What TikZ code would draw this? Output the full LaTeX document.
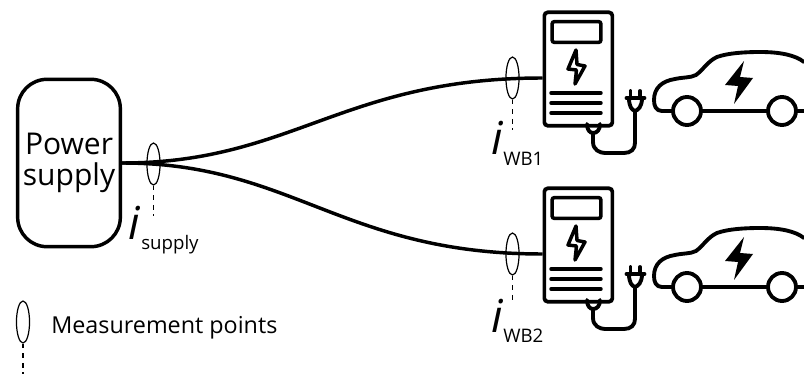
\documentclass[tikz,border=0pt]{standalone}
\usepackage{fontspec}
\usetikzlibrary{shapes.geometric}
\setmainfont{Open Sans}
\newcommand{\pxfont}[1]{\fontsize{#1}{#1}\selectfont}
\tikzset{
  x=0.75pt,y=-0.75pt,
  thick line/.style={line width=2.9pt,line join=round,line cap=round},
  mid line/.style={line width=2.6pt,line join=round,line cap=round},
  probe/.style={ellipse,draw,line width=0.9pt,minimum width=9.8pt,minimum height=31.5pt,inner sep=0pt},
  probe tail/.style={line width=0.9pt,dash pattern=on 3.6pt off 3.6pt},
  wire/.style={line width=2.6pt},
  cur/.style={anchor=base west,inner sep=0pt,font=\pxfont{34}\itshape},
  curs/.style={anchor=base west,inner sep=0pt,font=\pxfont{14}},
  station/.pic={
    \node[draw,line width=2.8pt,rounded corners=2.5pt,minimum width=51pt,minimum height=85pt,inner sep=0pt,anchor=north west] (-body) at (542.5,10.5) {};
    \node[draw,line width=2.6pt,rounded corners=1.5pt,minimum width=36.5pt,minimum height=15.5pt,inner sep=0pt] (-screen) at (576.5,32) {};
    \coordinate (-in) at (542.5,78);
    \draw[mid line] (576,50) -- (568,69) -- (576.5,70) -- (575,84) -- (585,66) -- (577,64.5) -- cycle;
    \draw[mid line] (551,93) -- (601,93) (551,103) -- (601,103) (551,113) -- (601,113);
    \draw[thick line] (587,124) .. controls (587,130) and (590,133) .. (593,133) .. controls (597,133) and (600,130) .. (600,124);
    \draw[thick line] (593,133) -- (593,142) .. controls (593,150) and (600,153) .. (605,153) -- (624,153) .. controls (631,153) and (635,149) .. (635,143) -- (635,112);
    \draw[thick line] (626.5,98) -- (644.5,98) (630.5,91) -- (630.5,98) (640,91) -- (640,98);
    \draw[thick line] (629,98) .. controls (629,107) and (632,110) .. (635,111) .. controls (638,110) and (642,107) .. (642,98);
    \draw[thick line] (672,111) -- (662,111) .. controls (656,111) and (654,106) .. (654,100) .. controls (654,88) and (662,81) .. (675,79) .. controls (684,77) and (690,78) .. (696,75) .. controls (703,70) and (708,61) .. (717,57) .. controls (728,53) and (745,52) .. (760,52) .. controls (780,52) and (795,55) .. (804,62);
    \draw[thick line] (701,111) -- (768,111) (796,111) -- (804,111);
    \draw[thick line] (687,111) circle[radius=14];
    \draw[thick line] (782,111) circle[radius=14];
    \fill (744,61) -- (725,85) -- (738,86) -- (734,104) -- (753,78) -- (740,77) -- cycle;
  }
}
\begin{document}
\begin{tikzpicture}
\useasboundingbox (0,0) rectangle (804,374);
\clip (0,0) rectangle (804,374);
\node[draw,line width=2.6pt,rounded corners=22pt,minimum width=77pt,minimum height=125.5pt,inner sep=0pt,align=center,font=\pxfont{22.5}] (psu) at (69,163) {Power\\[1pt]supply};
\pic (s1) at (0,0) {station};
\pic (s2) at (0,176) {station};
\draw[wire] (psu.east) .. controls ++(170,0) and ++(-200,0) .. (s1-in);
\draw[wire] (psu.east) .. controls ++(170,0) and ++(-200,0) .. (s2-in);
\node[probe] (p0) at (153.5,164) {};
\node[probe] (p1) at (512.5,78) {};
\node[probe] (p2) at (512.5,254) {};
\node[probe] (p3) at (23,322) {};
\coordinate (t0) at (153.5,216);
\coordinate (t1) at (512.5,130);
\coordinate (t2) at (512.5,302);
\coordinate (t3) at (23,374);
\draw[probe tail] (p0.south) -- (t0);
\draw[probe tail] (p1.south) -- (t1);
\draw[probe tail] (p2.south) -- (t2);
\draw[probe tail] (p3.south) -- (t3);
\node[cur] (i0) at (128,240) {i};
\node[curs] (l0) at (141,250) {supply};
\node[cur] (i1) at (491,155) {i};
\node[curs] (l1) at (503,166) {WB1};
\node[cur] (i2) at (491,332) {i};
\node[curs] (l2) at (503,342) {WB2};
\node[anchor=base west,inner sep=0pt,font=\pxfont{17.5}] (leg) at (51,334) {Measurement points};
\end{tikzpicture}
\end{document}
